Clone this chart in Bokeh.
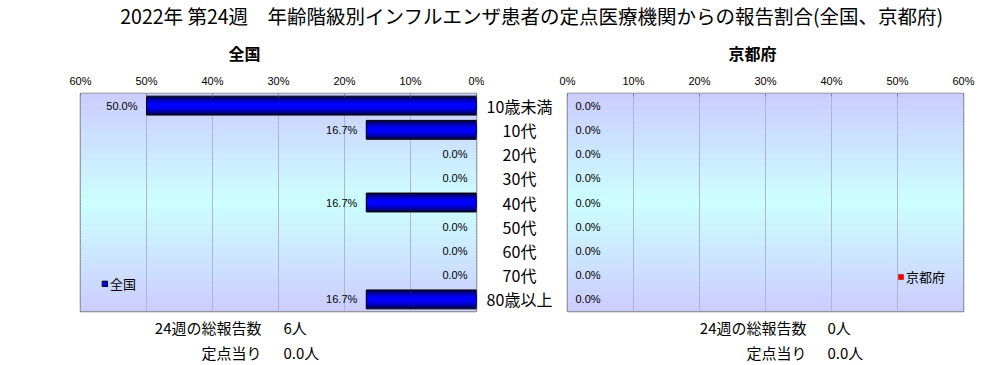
from bokeh.plotting import figure
from bokeh.layouts import column, row
from bokeh.models import (Range1d, FactorRange, FixedTicker, ColumnDataSource,
                          CDSView, BooleanFilter, Legend, LegendItem)
from bokeh.core.properties import value
from bokeh.embed import file_html
from bokeh.resources import INLINE

# ---------------- data ----------------
title_text = "2022年 第24週　年齢階級別インフルエンザ患者の定点医療機関からの報告割合(全国、京都府)"
panel_names = ["全国", "京都府"]
categories = ["10歳未満", "10代", "20代", "30代", "40代", "50代", "60代", "70代", "80歳以上"]
zenkoku_pct = [50.0, 16.7, 0.0, 0.0, 16.7, 0.0, 0.0, 0.0, 16.7]
kyoto_pct = [0.0, 0.0, 0.0, 0.0, 0.0, 0.0, 0.0, 0.0, 0.0]
tick_values = [0, 10, 20, 30, 40, 50, 60]
tick_labels = ["0%", "10%", "20%", "30%", "40%", "50%", "60%"]
week = 24
total_reports = [6, 0]
per_sentinel = [0.0, 0.0]

# ---------------- styling / layout ----------------
CJK = "Noto Sans CJK JP"
NUM = "Liberation Sans"
W = 990
TOP_H, MID_H, BOT_H = 70, 243, 50
FT, FB = 23, 2              # frame top / bottom borders in the panel row
LEFT_W, MID_W = 484, 75
RIGHT_W = W - LEFT_W - MID_W

yr = FactorRange(factors=list(reversed(categories)))
n = len(categories)

blue_layers = [(0.78, "#000050"), (0.66, "#00007E"), (0.54, "#0000A6"),
               (0.42, "#0000CA"), (0.30, "#0000EA"), (0.18, "#0000FF")]
red_layers = [(0.78, "#500000"), (0.66, "#7E0000"), (0.54, "#A60000"),
              (0.42, "#CA0000"), (0.30, "#EA0000"), (0.18, "#FF0000")]


def add_background(p):
    steps = 72
    bottoms, tops, colors = [], [], []
    for k in range(steps):
        mid = (k + 0.5) / steps
        d = abs(mid - 0.5) * 2
        g = round(255 - 51 * d)
        colors.append("#cc%02xff" % g)
        bottoms.append(n * k / steps)
        tops.append(n * (k + 1) / steps + 0.03)
    p.quad(left=tick_values[0], right=tick_values[-1], bottom=bottoms, top=tops,
           fill_color=colors, line_color=None, level="image")


def panel(width, x_range, bl, br, vals, layers, label_offset, label_align,
          legend_label, legend_loc):
    p = figure(width=width, height=MID_H, x_range=x_range, y_range=yr,
               x_axis_location="above", y_axis_location=None,
               toolbar_location=None, output_backend="svg",
               min_border_left=bl, min_border_right=br,
               min_border_top=FT, min_border_bottom=FB,
               background_fill_color="#CCFFFF", border_fill_color="white",
               outline_line_color="#808080", outline_line_width=1.5)
    add_background(p)
    ax = p.xaxis[0]
    ax.ticker = FixedTicker(ticks=tick_values)
    ax.major_label_overrides = {v: l for v, l in zip(tick_values, tick_labels)}
    ax.major_label_text_font = NUM
    ax.major_label_text_font_size = "11px"
    ax.major_label_text_color = "black"
    ax.major_label_standoff = 7
    ax.major_tick_in = 3
    ax.major_tick_out = 0
    ax.minor_tick_line_color = None
    ax.major_tick_line_color = "#808080"
    ax.axis_line_color = None
    p.xgrid.ticker = FixedTicker(ticks=tick_values[1:-1])
    p.xgrid.grid_line_color = "#AEB6CA"
    p.ygrid.visible = False

    src = ColumnDataSource(dict(cat=categories, val=vals,
                                label=["%.1f%%" % v for v in vals]))
    rs = []
    for h, c in layers:
        rs.append(p.hbar(y="cat", left=0, right="val", height=h, source=src,
                         fill_color=c, line_color=None))
    outline = p.hbar(y="cat", left=0, right="val", height=layers[0][0], source=src,
                     view=CDSView(filter=BooleanFilter([v > 0 for v in vals])),
                     fill_color=None, line_color="black", line_width=1)
    p.text(x="val", y="cat", text="label", source=src, x_offset=label_offset,
           text_align=label_align, text_baseline="middle",
           text_font=value(NUM), text_font_size="11px", text_color="black")
    leg = Legend(items=[LegendItem(label=legend_label, renderers=[rs[4], outline])],
                 location=legend_loc, background_fill_alpha=0, border_line_color=None,
                 padding=0, margin=0, spacing=0, glyph_width=7, glyph_height=7,
                 label_standoff=2, label_height=14, label_width=10,
                 label_text_font=CJK, label_text_font_size="13px",
                 label_text_color="black")
    p.add_layout(leg)
    return p


left = panel(LEFT_W, Range1d(tick_values[-1], tick_values[0]), 80, 8, zenkoku_pct,
             blue_layers, -9, "right", panel_names[0], (21, 18))
right = panel(RIGHT_W, Range1d(tick_values[0], tick_values[-1]), 8, W - 963, kyoto_pct,
              red_layers, 8, "left", panel_names[1], (330, 25))


def text_fig(width, height, y_range=None, bt=0, bb=0):
    p = figure(width=width, height=height, x_range=Range1d(0, width),
               y_range=y_range if y_range is not None else Range1d(height, 0),
               x_axis_location=None, y_axis_location=None,
               toolbar_location=None, output_backend="svg",
               min_border=0, min_border_top=bt, min_border_bottom=bb,
               outline_line_color=None,
               background_fill_color="white", border_fill_color="white")
    p.grid.visible = False
    return p


mid = text_fig(MID_W, MID_H, y_range=yr, bt=FT, bb=FB)
mid.text(x=35, y=categories, text=categories, text_align="center",
         text_baseline="middle", text_font=value(CJK), text_font_size="16px",
         text_color="black")

top = text_fig(W, TOP_H)
top.text(x=[531.5], y=[15], text=[title_text], text_align="center",
         text_baseline="middle", text_font=value(CJK), text_font_size="19.5px",
         text_color="black")
top.text(x=[244, 752], y=[52.5, 52.5], text=panel_names, text_align="center",
         text_baseline="middle", text_font=value(CJK), text_font_size="16px",
         text_font_style="bold", text_color="black")

bottom = text_fig(W, BOT_H)
lab1 = "%d週の総報告数" % week
lab2 = "定点当り"
bottom.text(x=[261, 261, 806, 806], y=[14, 39, 14, 39],
            text=[lab1, lab2, lab1, lab2], text_align="right", text_baseline="middle",
            text_font=value(CJK), text_font_size="15px", text_color="black")
bottom.text(x=[283, 283, 827, 827], y=[14, 39, 14, 39],
            text=["%d人" % total_reports[0], "%.1f人" % per_sentinel[0],
                  "%d人" % total_reports[1], "%.1f人" % per_sentinel[1]],
            text_align="left", text_baseline="middle",
            text_font=value(CJK), text_font_size="15px", text_color="black")

layout = column(top, row(left, mid, right), bottom)
open("out.html", "w").write(file_html(layout, INLINE))
